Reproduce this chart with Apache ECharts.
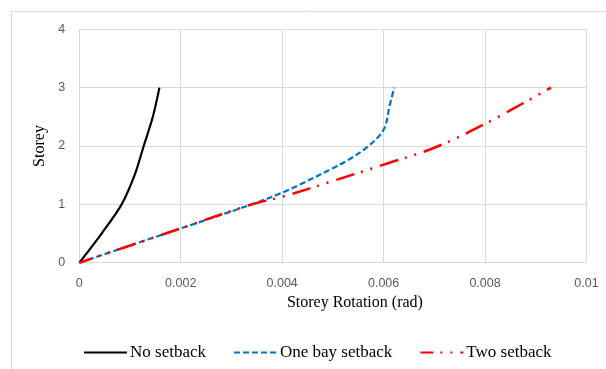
<!DOCTYPE html>
<html><head><meta charset="utf-8">
<script src="https://cdn.jsdelivr.net/npm/echarts@6/dist/echarts.min.js"></script>
<style>html,body{margin:0;padding:0;background:#fff}#c{width:606px;height:369px}</style>
</head><body><div id="c"></div>
<script>
var seriesNames = ['No setback', 'One bay setback', 'Two setback'];
var noSetback = [[0,0],[0.00044,0.5],[0.000835,1],[0.00109,1.5],[0.00127,2],[0.00145,2.5],[0.00158,3]];
var oneBaySetback = [[0,0],[0.0017,0.5],[0.0034,1],[0.004,1.2],[0.00435,1.34],[0.005,1.62],[0.0053,1.76],[0.00566,1.97],[0.006,2.28],[0.00612,2.7],[0.00621,3]];
var twoSetback = [[0,0],[0.0017,0.5],[0.0034,1],[0.004,1.13],[0.005,1.4],[0.006,1.68],[0.007,1.97],[0.008,2.38],[0.0093,3]];
var xTicks = ['0','0.002','0.004','0.006','0.008','0.01'];
var yTicks = ['0','1','2','3','4'];

var chart = echarts.init(document.getElementById('c'), null, {renderer:'canvas'});
var serif = '"Liberation Serif", "Times New Roman", serif';
var sans = '"Liberation Sans", Arial, sans-serif';
chart.setOption({
  animation: false,
  graphic: [{type:'rect', shape:{x:11.5,y:11.5,width:700,height:500}, style:{fill:'none', stroke:'#d9d9d9', lineWidth:1}, silent:true}],
  grid: {left:79.3, right:19.5, top:29.3, bottom:106.3, containLabel:false},
  legend: {
    left: 83, top: 344, padding: 0, itemWidth: 43, itemHeight: 14, itemGap: 27,
    itemStyle: {opacity: 0},
    textStyle: {fontFamily: serif, fontSize: 17, color: '#000', padding:[0,0,0,-2]},
    data: seriesNames
  },
  xAxis: {
    type:'value', min:0, max:0.01, interval:0.002,
    name:'Storey Rotation (rad)', nameLocation:'middle', nameGap:30,
    nameTextStyle:{fontFamily:serif, fontSize:16, color:'#000', padding:[0,0,0,44]},
    axisLine:{show:false}, axisTick:{show:false},
    splitLine:{show:true, lineStyle:{color:'#d9d9d9', width:1}},
    axisLabel:{margin:14, fontFamily:sans, fontSize:12.5, color:'#595959',
      formatter:function(v){ var i=Math.round(v/0.002); return xTicks[i]; }}
  },
  yAxis: {
    type:'value', min:0, max:4, interval:1,
    name:'Storey', nameLocation:'middle', nameGap:29,
    nameTextStyle:{fontFamily:serif, fontSize:16, color:'#000'},
    axisLine:{show:false}, axisTick:{show:false},
    splitLine:{show:true, lineStyle:{color:'#d9d9d9', width:1}},
    axisLabel:{margin:14, fontFamily:sans, fontSize:12.5, color:'#595959',
      formatter:function(v){ return yTicks[Math.round(v)]; }}
  },
  series: [
    {name:seriesNames[0], type:'line', data:noSetback, smooth:0.3, symbol:'none',
     lineStyle:{color:'#000000', width:2.2}, itemStyle:{color:'#000000'}},
    {name:seriesNames[1], type:'line', data:oneBaySetback, smooth:0.35, symbol:'none',
     lineStyle:{color:'#0070c0', width:2.2, type:[6,3]}, itemStyle:{color:'#0070c0'}},
    {name:seriesNames[2], type:'line', data:twoSetback, smooth:0.35, symbol:'none',
     lineStyle:{color:'#ff0000', width:2.5, type:[19,7,2,8,2,8], dashOffset:6}, itemStyle:{color:'#ff0000'}}
  ]
});
</script></body></html>
